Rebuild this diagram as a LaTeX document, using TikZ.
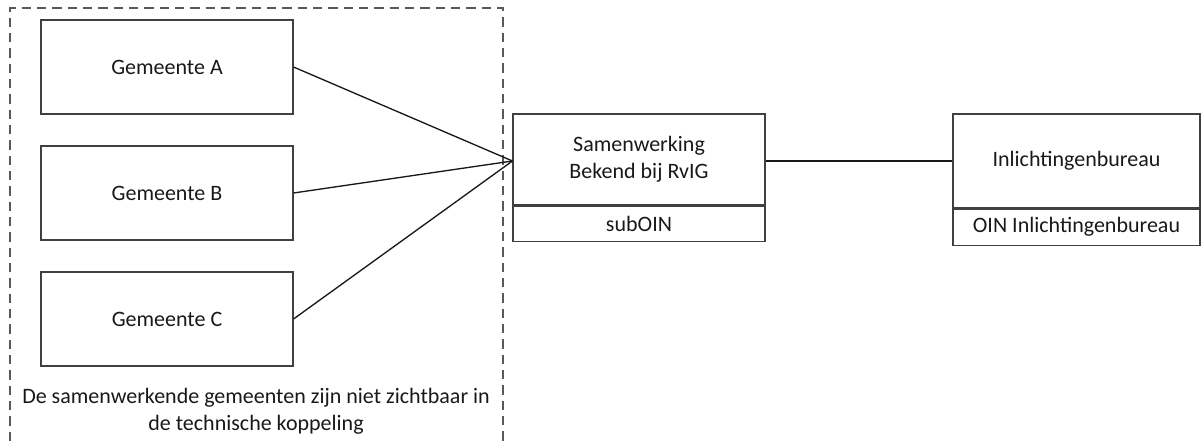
\documentclass[tikz,border=0pt]{standalone}
\usepackage{fontspec}
\setmainfont{Carlito}
\begin{document}
\begin{tikzpicture}[x=0.75pt,y=-0.75pt,
  every node/.style={font=\fontsize{16.5}{20.5}\selectfont, text=black!90, inner sep=0pt},
  gbox/.style={draw=black!75, line width=0.8pt, minimum width=189pt, minimum height=70.5pt},
  conn/.style={draw=black!90, line width=1pt},
  grpframe/.style={draw=black!65, line width=0.8pt, dash pattern=on 7pt off 4.5pt}]
\useasboundingbox (0,0) rectangle (1201,441);
% group frame
\coordinate (g1) at (10,441);
\coordinate (g2) at (10,8);
\coordinate (g3) at (503,8);
\coordinate (g4) at (503,441);
\draw[grpframe] (g1) -- (g2) -- (g3) -- (g4);
% municipalities
\node[gbox] (A) at (167,67) {Gemeente A};
\node[gbox] (B) at (167,193) {Gemeente B};
\node[gbox] (C) at (167,319) {Gemeente C};
% cooperation
\node[gbox, minimum height=68.25pt, align=center] (S) at (639,159.5) {Samenwerking\\Bekend bij RvIG};
\node[gbox, minimum height=26.25pt, anchor=north] (Ssub) at (S.south) {subOIN};
% Inlichtingenbureau
\node[gbox, minimum width=185.25pt, minimum height=70.5pt] (I) at (1076.5,161) {Inlichtingenbureau};
\node[gbox, minimum width=185.25pt, minimum height=27pt, anchor=north] (Isub) at (I.south) {OIN Inlichtingenbureau};
% connectors
\coordinate (J) at (S.west |- I.west);
\draw[conn] (A.east) -- (J);
\draw[conn] (B.east) -- (J);
\draw[conn] (C.east) -- (J);
\draw[conn] (S.east |- I.west) -- (I.west);
% note
\node[align=center] (note) at (256,411.5) {De samenwerkende gemeenten zijn niet zichtbaar in\\de technische koppeling};
\end{tikzpicture}
\end{document}
